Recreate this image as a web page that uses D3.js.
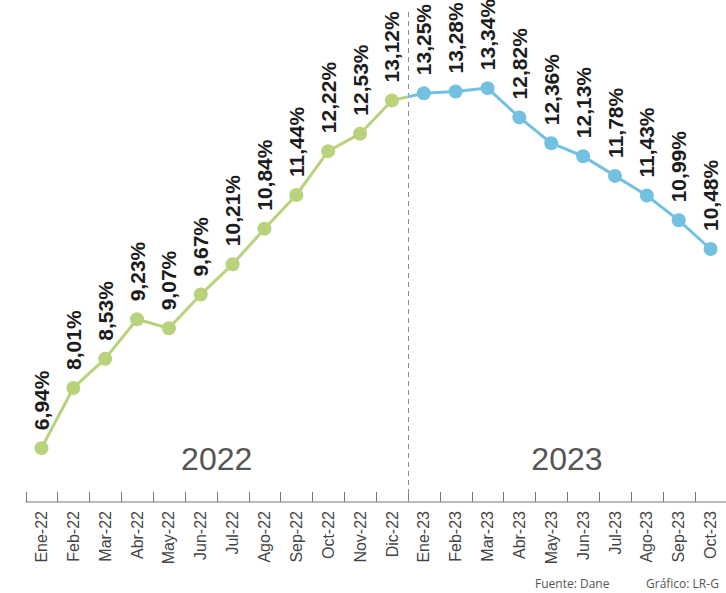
<!DOCTYPE html>
<html>
<head>
<meta charset="utf-8">
<script src="https://cdn.jsdelivr.net/npm/d3@7"></script>
<style>
  html, body { margin: 0; padding: 0; background: #fff; }
  svg { display: block; }
</style>
</head>
<body>
<svg id="chart" width="726" height="593"></svg>
<script>
const months = ["Ene-22","Feb-22","Mar-22","Abr-22","May-22","Jun-22","Jul-22","Ago-22","Sep-22","Oct-22","Nov-22","Dic-22",
                "Ene-23","Feb-23","Mar-23","Abr-23","May-23","Jun-23","Jul-23","Ago-23","Sep-23","Oct-23"];
const values2022 = [6.94, 8.01, 8.53, 9.23, 9.07, 9.67, 10.21, 10.84, 11.44, 12.22, 12.53, 13.12];
const values2023 = [13.25, 13.28, 13.34, 12.82, 12.36, 12.13, 11.78, 11.43, 10.99, 10.48];
const years = ["2022", "2023"];
const source = "Fuente: Dane";
const credit = "Gráfico: LR-G";

const W = 726, H = 593;
const svg = d3.select("#chart");

const green = "#b9d27c";
const blue = "#72c1e0";

const x = d3.scaleBand().domain(months).range([25.5, 726.5]).padding(0);
const y = d3.scaleLinear().domain([6, 14]).range([501, 51]);
const cx = m => x(m) + x.bandwidth() / 2;

const data = months.map((m, i) => ({
  m, v: i < 12 ? values2022[i] : values2023[i - 12], year: i < 12 ? 0 : 1
}));
const splitX = x(months[12]);

// clip paths
const defs = svg.append("defs");
defs.append("clipPath").attr("id", "clipL").append("rect")
  .attr("x", 0).attr("y", 0).attr("width", splitX).attr("height", H);
defs.append("clipPath").attr("id", "clipR").append("rect")
  .attr("x", splitX).attr("y", 0).attr("width", W - splitX).attr("height", H);

// axis
const axisY = 502;
const axisG = svg.append("g").attr("transform", `translate(0,${axisY})`);
axisG.append("line").attr("x1", x(months[0])).attr("x2", W).attr("y1", 0).attr("y2", 0)
  .attr("stroke", "#7a7a7a").attr("stroke-width", 1.2);
axisG.selectAll("line.tick").data(months).join("line").attr("class", "tick")
  .attr("x1", d => Math.round(x(d)) + 0.5).attr("x2", d => Math.round(x(d)) + 0.5)
  .attr("y1", 0).attr("y2", -10)
  .attr("stroke", "#7a7a7a").attr("stroke-width", 1);
axisG.selectAll("text.lab").data(months).join("text").attr("class", "lab")
  .attr("transform", d => `translate(${cx(d)},9) rotate(-90)`)
  .attr("text-anchor", "end").attr("dy", "0.35em")
  .attr("font-family", "'Liberation Sans Narrow', 'Liberation Sans', sans-serif")
  .attr("font-size", 16).attr("fill", "#444")
  .text(d => d);

// dashed divider
svg.append("line").attr("x1", Math.round(splitX) + 0.5).attr("x2", Math.round(splitX) + 0.5)
  .attr("y1", 12).attr("y2", axisY)
  .attr("stroke", "#8a8a8a").attr("stroke-width", 1).attr("stroke-dasharray", "5,4");

// year labels
svg.selectAll("text.year").data(years).join("text").attr("class", "year")
  .attr("x", (d, i) => i === 0 ? (x(months[0]) + splitX) / 2 : (splitX + W) / 2)
  .attr("y", 470)
  .attr("text-anchor", "middle")
  .attr("font-family", "'Liberation Sans Narrow', 'Liberation Sans', sans-serif")
  .attr("font-size", 32).attr("fill", "#555")
  .text(d => d);

// lines
const line = d3.line().x(d => cx(d.m)).y(d => y(d.v));
svg.append("path").datum(data).attr("d", line).attr("fill", "none")
  .attr("stroke", green).attr("stroke-width", 3).attr("clip-path", "url(#clipL)");
svg.append("path").datum(data).attr("d", line).attr("fill", "none")
  .attr("stroke", blue).attr("stroke-width", 3).attr("clip-path", "url(#clipR)");

// points
svg.selectAll("circle.pt").data(data).join("circle").attr("class", "pt")
  .attr("cx", d => cx(d.m)).attr("cy", d => y(d.v)).attr("r", 7)
  .attr("fill", d => d.year === 0 ? green : blue);

// value labels
svg.selectAll("text.val").data(data).join("text").attr("class", "val")
  .attr("transform", d => `translate(${cx(d.m)},${y(d.v) - 18}) rotate(-90)`)
  .attr("text-anchor", "start").attr("dy", "0.36em")
  .attr("font-family", "'Liberation Sans Narrow', 'Liberation Sans', sans-serif")
  .attr("font-weight", "bold").attr("font-size", 21).attr("fill", "#1c1c1c")
  .text(d => d.v.toFixed(2).replace(".", ",") + "%");

// footer
svg.append("text").attr("x", 535).attr("y", 588)
  .attr("font-family", "'Open Sans', sans-serif").attr("font-size", 12).attr("fill", "#555")
  .text(source);
svg.append("text").attr("x", 646).attr("y", 588)
  .attr("font-family", "'Open Sans', sans-serif").attr("font-size", 12).attr("fill", "#555")
  .text(credit);
</script>
</body>
</html>
